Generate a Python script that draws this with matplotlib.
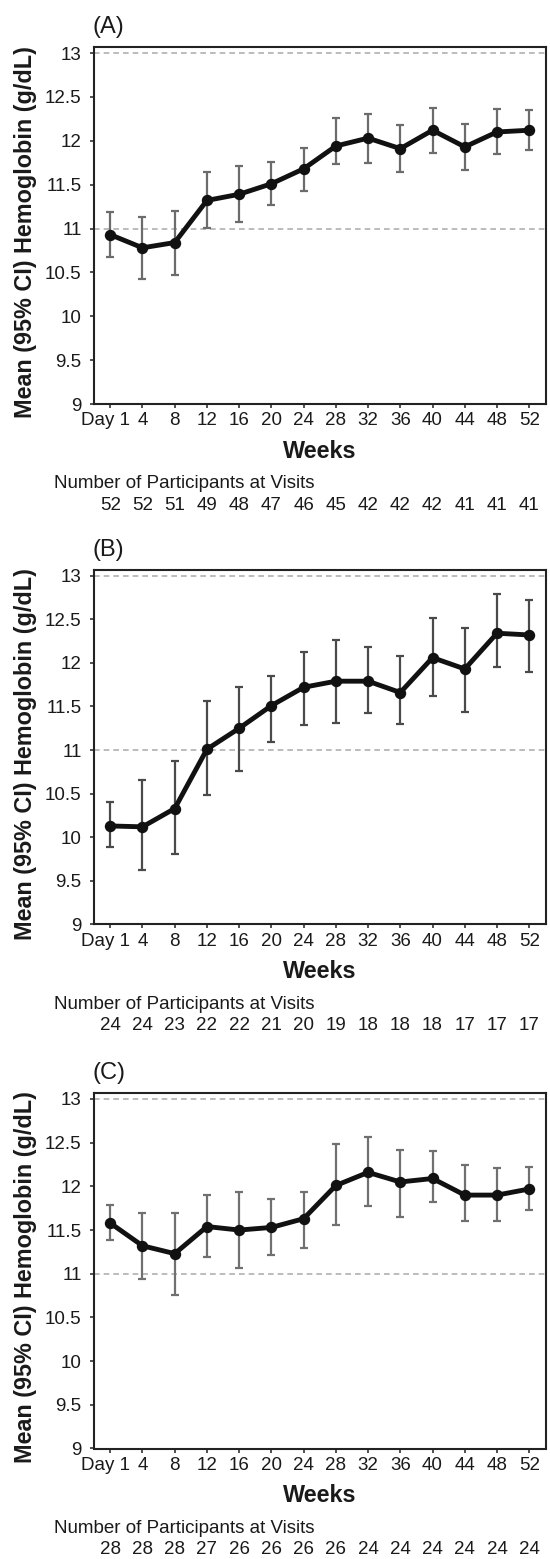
import matplotlib
matplotlib.use("Agg")
import matplotlib.pyplot as plt
from matplotlib.transforms import ScaledTranslation

plt.rcParams['font.family'] = ['Liberation Sans', 'DejaVu Sans']

visit_labels = ['Day 1', '4', '8', '12', '16', '20', '24', '28', '32', '36', '40', '44', '48', '52']
y_ticks = [9, 9.5, 10, 10.5, 11, 11.5, 12, 12.5, 13]
ref_lines = [11, 13]
panel_names = ['(A)', '(B)', '(C)']

a_mean = [10.93, 10.78, 10.84, 11.32, 11.39, 11.51, 11.68, 11.94, 12.03, 11.91, 12.12, 11.93, 12.10, 12.12]
a_upper = [11.19, 11.13, 11.20, 11.64, 11.71, 11.76, 11.92, 12.26, 12.31, 12.18, 12.37, 12.19, 12.36, 12.35]
a_lower = [10.67, 10.43, 10.47, 11.01, 11.07, 11.27, 11.43, 11.74, 11.75, 11.64, 11.86, 11.67, 11.85, 11.90]
a_n = [52, 52, 51, 49, 48, 47, 46, 45, 42, 42, 42, 41, 41, 41]

b_mean = [10.13, 10.12, 10.33, 11.01, 11.25, 11.51, 11.72, 11.79, 11.79, 11.66, 12.06, 11.93, 12.34, 12.32]
b_upper = [10.40, 10.66, 10.87, 11.56, 11.72, 11.85, 12.13, 12.26, 12.18, 12.08, 12.52, 12.40, 12.79, 12.72]
b_lower = [9.89, 9.63, 9.81, 10.48, 10.76, 11.09, 11.29, 11.31, 11.43, 11.30, 11.62, 11.44, 11.95, 11.90]
b_n = [24, 24, 23, 22, 22, 21, 20, 19, 18, 18, 18, 17, 17, 17]

c_mean = [11.58, 11.32, 11.23, 11.54, 11.50, 11.53, 11.63, 12.01, 12.16, 12.05, 12.09, 11.90, 11.90, 11.97]
c_upper = [11.79, 11.70, 11.69, 11.90, 11.94, 11.85, 11.93, 12.48, 12.56, 12.42, 12.41, 12.24, 12.21, 12.22]
c_lower = [11.39, 10.94, 10.76, 11.19, 11.06, 11.21, 11.30, 11.56, 11.77, 11.65, 11.82, 11.60, 11.60, 11.73]
c_n = [28, 28, 28, 27, 26, 26, 26, 26, 24, 24, 24, 24, 24, 24]

W, H = 550, 1559
fig = plt.figure(figsize=(W / 100, H / 100), dpi=100)

left_px, right_px = 93.5, 546.0
boxes = [(47.3, 404.0), (570.0, 924.5), (1093.3, 1448.5)]
err_colors = ['#6c6c6c', '#4a4a4a', '#707070']
panels = [(a_mean, a_upper, a_lower, a_n),
          (b_mean, b_upper, b_lower, b_n),
          (c_mean, c_upper, c_lower, c_n)]

text_col = '#1a1a1a'
x = list(range(len(visit_labels)))

for i, ((mean, up, lo, n), (top, bot)) in enumerate(zip(panels, boxes)):
    ax = fig.add_axes([left_px / W, 1 - bot / H, (right_px - left_px) / W, (bot - top) / H])
    for r in ref_lines:
        ax.axhline(r, color='#b0b0b0', lw=1.2, ls=(0, (3.4, 2.4)), zorder=1)
    yerr = [[m - l for m, l in zip(mean, lo)], [u - m for m, u in zip(mean, up)]]
    ax.errorbar(x, mean, yerr=yerr, fmt='none', ecolor=err_colors[i], elinewidth=1.6,
                capsize=3.0, capthick=1.6, zorder=2)
    ax.plot(x, mean, color='#111111', lw=3.5, marker='o', ms=7.2, zorder=3)

    ax.set_xlim(-0.52, 13.52)
    ax.set_ylim(9, 13.065)
    ax.set_yticks(y_ticks)
    ax.set_yticklabels(['%g' % v for v in y_ticks])
    ax.set_xticks(x)
    ax.set_xticklabels(visit_labels)
    ax.tick_params(axis='both', direction='out', length=3, width=1.1, labelsize=13.5,
                   colors=text_col, color='#222222')
    ax.tick_params(axis='y', pad=5.5)
    ax.tick_params(axis='x', pad=3)
    for sp in ax.spines.values():
        sp.set_linewidth(1.5)
        sp.set_color('#222222')

    lbl = ax.xaxis.get_major_ticks()[0].label1
    lbl.set_transform(lbl.get_transform() + ScaledTranslation(-5 / 100, 0, fig.dpi_scale_trans))

    ax.set_xlabel('Weeks', fontsize=16.8, fontweight='bold', color=text_col, va='center')
    ax.xaxis.set_label_coords(0.5, -47.5 / (bot - top))

    fig.text(left_px / W - 0.002, 1 - (top - 20) / H, panel_names[i], fontsize=17,
             ha='left', va='center', color=text_col)
    fig.text(26 / W, 1 - ((top + bot) / 2 + 6.5) / H, 'Mean (95% CI) Hemoglobin (g/dL)',
             rotation=90, fontsize=16.8, fontweight='bold', ha='center', va='center',
             color=text_col)
    fig.text(54.3 / W, 1 - (bot + 80) / H, 'Number of Participants at Visits', fontsize=13.5,
             ha='left', va='center', color=text_col)
    for xi, ni in zip(x, n):
        ax.annotate(str(ni), xy=(xi, 0), xycoords=('data', 'axes fraction'),
                    xytext=(0, -101), textcoords='offset pixels', ha='center', va='center',
                    fontsize=13.5, color=text_col, annotation_clip=False)

fig.savefig('out.png', dpi=100)
